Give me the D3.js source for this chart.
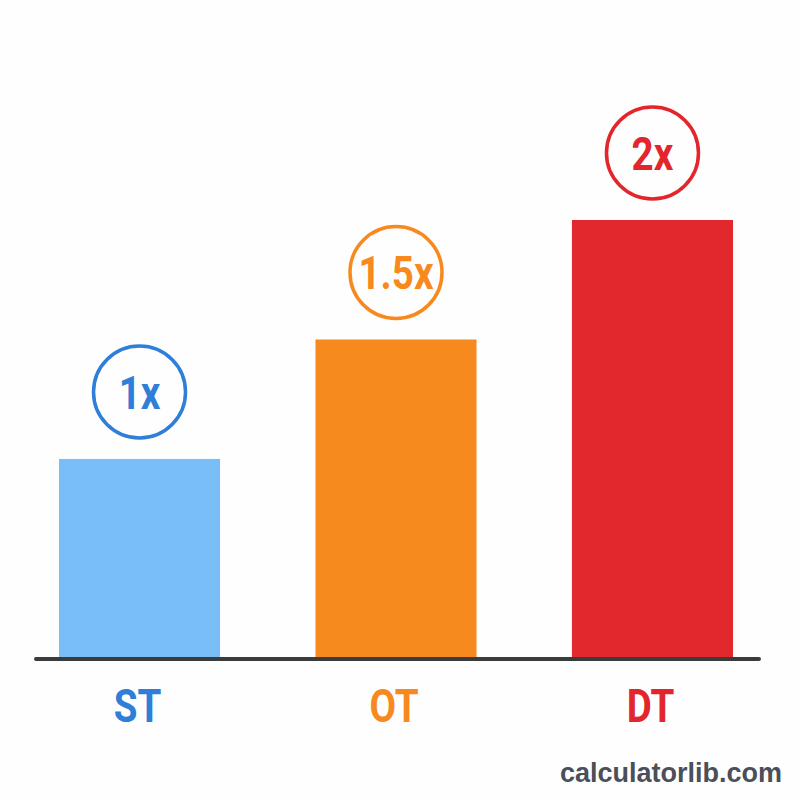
<!DOCTYPE html>
<html>
<head>
<meta charset="utf-8">
<script src="https://cdn.jsdelivr.net/npm/d3@7"></script>
<style>
  html, body { margin: 0; padding: 0; background: #fefefe; }
</style>
</head>
<body>
<div id="chart"></div>
<script>
const width = 800, height = 800;

// data
const categories = ["ST", "OT", "DT"];
const multipliers = [1, 1.5, 2];
const badgeLabels = ["1x", "1.5x", "2x"];
const barColors = ["#7abef8", "#f78a1f", "#e3282d"];
const textColors = ["#2f7ed8", "#f7891f", "#e2262b"];

const baseY = 658;

const svg = d3.select("#chart").append("svg")
    .attr("width", width).attr("height", height);

svg.append("rect").attr("width", width).attr("height", height).attr("fill", "#fefefe");

const x = d3.scaleBand().domain(categories).range([59, 733]).paddingInner(0.372).paddingOuter(0);
// bars don't start at zero in the original, so the domain floor is raised
const y = d3.scaleLinear().domain([0.167, 2]).range([baseY, 220]);

const rows = categories.map((c, i) => ({ cat: c, val: multipliers[i], badge: badgeLabels[i], bar: barColors[i], txt: textColors[i] }));

svg.selectAll("rect.bar")
    .data(rows)
    .join("rect")
    .attr("class", "bar")
    .attr("x", d => x(d.cat))
    .attr("y", d => y(d.val))
    .attr("width", x.bandwidth())
    .attr("height", d => baseY - y(d.val))
    .attr("fill", d => d.bar);

// baseline
svg.append("line")
    .attr("x1", 36).attr("x2", 759)
    .attr("y1", baseY + 1).attr("y2", baseY + 1)
    .attr("stroke", "#3a3b3d")
    .attr("stroke-width", 4)
    .attr("stroke-linecap", "round");

// badges above bars
const badge = svg.selectAll("g.badge")
    .data(rows)
    .join("g")
    .attr("class", "badge")
    .attr("transform", d => `translate(${x(d.cat) + x.bandwidth() / 2}, ${y(d.val) - 67})`);

badge.append("circle")
    .attr("r", 46)
    .attr("fill", "none")
    .attr("stroke", d => d.txt)
    .attr("stroke-width", 3.5);

badge.append("text")
    .attr("transform", "scale(0.82,1)")
    .attr("text-anchor", "middle")
    .attr("y", 17)
    .attr("font-family", "Roboto, sans-serif")
    .attr("font-weight", "bold")
    .attr("font-size", 47)
    .attr("fill", d => d.txt)
    .text(d => d.badge);

// category labels
svg.selectAll("text.cat")
    .data(rows)
    .join("text")
    .attr("class", "cat")
    .attr("transform", d => `translate(${x(d.cat) + x.bandwidth() / 2 - 2}, 722) scale(0.82,1)`)
    .attr("text-anchor", "middle")
    .attr("font-family", "Roboto, sans-serif")
    .attr("font-weight", "bold")
    .attr("font-size", 47)
    .attr("fill", d => d.txt)
    .text(d => d.cat);

// footer
svg.append("text")
    .attr("x", 782).attr("y", 782)
    .attr("text-anchor", "end")
    .attr("font-family", "Liberation Sans, Arial, sans-serif")
    .attr("font-weight", "bold")
    .attr("font-size", 27)
    .attr("fill", "#4a4f5a")
    .text("calculatorlib.com");
</script>
</body>
</html>
